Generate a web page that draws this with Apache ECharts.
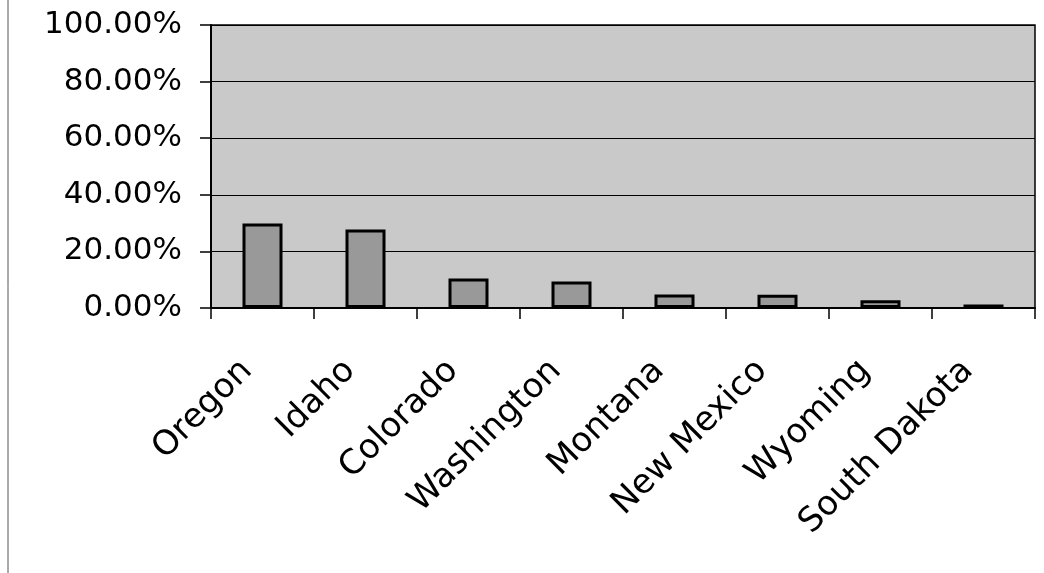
<!DOCTYPE html>
<html>
<head>
<meta charset="utf-8">
<script src="https://cdn.jsdelivr.net/npm/echarts@6/dist/echarts.min.js"></script>
<style>
html,body{margin:0;padding:0;background:#fff;}
#chart{width:1044px;height:573px;}
</style>
</head>
<body>
<div id="chart"></div>
<script>
const categories = ['Oregon','Idaho','Colorado','Washington','Montana','New Mexico','Wyoming','South Dakota'];
const values = [29.9, 27.7, 10.4, 9.4, 4.8, 4.7, 2.7, 1.2];
const yTicks = [0, 20, 40, 60, 80, 100];

const chart = echarts.init(document.getElementById('chart'));
chart.setOption({
  animation: false,
  backgroundColor: '#ffffff',
  graphic: [{
    type: 'line', shape: {x1: 8, y1: 0, x2: 8, y2: 573},
    style: {stroke: '#555', lineWidth: 1}
  }],
  grid: {
    left: 211, right: 9, top: 25, bottom: 265,
    show: true, backgroundColor: '#c9c9c9', borderColor: '#000', borderWidth: 1.5
  },
  xAxis: {
    type: 'category',
    data: categories,
    boundaryGap: true,
    axisLine: {lineStyle: {color: '#000', width: 2}},
    axisTick: {show: true, alignWithLabel: false, length: 11, lineStyle: {color: '#000', width: 1.5}},
    axisLabel: {
      rotate: 45, margin: 42, interval: 0,
      padding: [0, 22, 0, 0],
      fontFamily: 'DejaVu Sans', fontSize: 34, color: '#000'
    }
  },
  yAxis: {
    type: 'value', min: yTicks[0], max: yTicks[yTicks.length-1], interval: 20,
    axisLine: {show: true, lineStyle: {color: '#000', width: 2}},
    axisTick: {show: true, length: 11, lineStyle: {color: '#000', width: 1.5}},
    splitLine: {show: true, lineStyle: {color: '#000', width: 1.2}},
    axisLabel: {
      margin: 29, fontFamily: 'DejaVu Sans', fontSize: 31, color: '#000',
      padding: [0, 0, 10, 0],
      formatter: v => v.toFixed(2) + '%'
    }
  },
  series: [{
    type: 'bar',
    data: values,
    barWidth: 40,
    itemStyle: {color: '#999999', borderColor: '#000', borderWidth: 3}
  }]
});
</script>
</body>
</html>
